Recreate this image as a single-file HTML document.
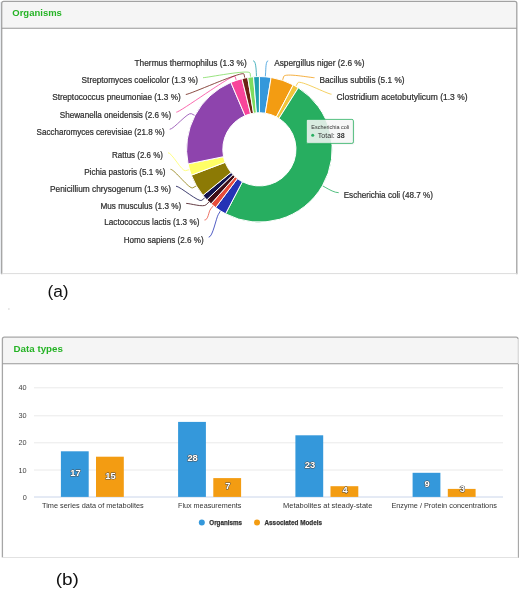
<!DOCTYPE html>
<html><head><meta charset="utf-8"><style>
html,body{margin:0;padding:0;background:#fff}
body{width:520px;height:589px;overflow:hidden;position:relative;font-family:"Liberation Sans",sans-serif}
svg{position:absolute;left:0;top:0;will-change:transform}
text{font-family:"Liberation Sans",sans-serif}
</style></head><body>
<svg width="520" height="589" viewBox="0 0 520 589">
<!-- panels -->
<g fill="none">
<rect x="2.2" y="2" width="514" height="26.3" fill="#f5f5f5"/>
<rect x="0" y="2" width="1.4" height="272" fill="#eaedf1"/>
<path d="M1.7,274.2V3.4Q1.7,1.45 3.7,1.45H514.8Q516.8,1.45 516.8,3.4V274.2" stroke="#a2a2a2" stroke-width="1.3"/>
<path d="M1.6,273.6H516.8" stroke="#dcdcdc" stroke-width="1"/>
<path d="M1.6,28.3H516.8" stroke="#989898" stroke-width="1.1"/>
<rect x="3" y="337.7" width="514.6" height="26" fill="#f5f5f5"/>
<path d="M2.4,557.4V339.1Q2.4,337.1 4.4,337.1H516Q518,337.1 518,339.1" stroke="#a6a6a6" stroke-width="1.3"/>
<path d="M518.2,339.1V364" stroke="#cfcfcf" stroke-width="1.1"/><path d="M518.4,364V557.8" stroke="#a4a4a4" stroke-width="1.1"/>
<path d="M2.4,557.5H518" stroke="#e2e2e2" stroke-width="1"/>
<path d="M2.4,363.7H518" stroke="#989898" stroke-width="1.1"/>
</g>
<text x="47.4" y="297.3" font-size="17.3" fill="#111">(a)</text>
<text x="55.7" y="585.3" font-size="17.3" fill="#111" textLength="23.2" lengthAdjust="spacingAndGlyphs">(b)</text>
<path d="M268.2,60.8C265.7,60.8 265.9,68.8 265.6,72.8L265.3,76.8" fill="none" stroke="#3498db" stroke-width="0.8"/>
<path d="M314.5,77.7C310.5,77.7 285.0,72.7 283.7,76.5L282.5,80.3" fill="none" stroke="#f39c12" stroke-width="0.8"/>
<path d="M331.5,94.2C327.5,94.2 299.8,79.4 297.8,82.8L295.8,86.3" fill="none" stroke="#f1c43a" stroke-width="0.8"/>
<path d="M338.7,192.7C334.7,192.7 329.4,189.7 325.9,187.7L322.4,185.7" fill="none" stroke="#27ae60" stroke-width="0.8"/>
<path d="M208.7,237.2C212.7,237.2 216.2,217.6 218.4,214.3L220.5,210.9" fill="none" stroke="#2433b5" stroke-width="0.8"/>
<path d="M204.5,220.0C208.5,220.0 208.3,211.9 210.8,208.8L213.4,205.7" fill="none" stroke="#e74c3c" stroke-width="0.8"/>
<path d="M186.2,203.4C190.2,203.4 203.4,207.6 206.2,204.7L209.0,201.9" fill="none" stroke="#3d0c16" stroke-width="0.8"/>
<path d="M176.0,186.2C180.0,186.2 198.9,202.9 201.9,200.3L204.9,197.6" fill="none" stroke="#12124e" stroke-width="0.8"/>
<path d="M170.5,169.3C174.5,169.3 189.4,189.8 192.9,187.8L196.4,185.8" fill="none" stroke="#8c7a05" stroke-width="0.8"/>
<path d="M168.0,152.7C172.0,152.7 181.8,171.8 185.6,170.7L189.5,169.6" fill="none" stroke="#ffff66" stroke-width="0.8"/>
<path d="M169.7,129.3C173.7,129.3 187.9,111.8 191.4,113.7L194.9,115.5" fill="none" stroke="#8e44ad" stroke-width="0.8"/>
<path d="M176.3,112.2C180.3,112.2 233.8,72.7 235.1,76.5L236.3,80.3" fill="none" stroke="#f9449a" stroke-width="0.8"/>
<path d="M185.8,94.5C189.8,94.5 243.2,70.2 244.0,74.1L244.8,78.0" fill="none" stroke="#6e2014" stroke-width="0.8"/>
<path d="M203.0,77.7C207.0,77.7 249.7,69.1 250.1,73.1L250.6,77.1" fill="none" stroke="#7fdc5f" stroke-width="0.8"/>
<path d="M253.2,60.8C255.7,60.8 256.1,68.6 256.3,72.6L256.5,76.6" fill="none" stroke="#1fa0af" stroke-width="0.8"/>
<path d="M259.40,76.55A72.8,72.8 0 0 1 271.08,77.49L265.27,113.22A36.6,36.6 0 0 0 259.40,112.75Z" fill="#3498db" stroke="#fff" stroke-width="1" stroke-linejoin="round"/>
<path d="M271.08,77.49A72.8,72.8 0 0 1 293.23,84.89L276.41,116.94A36.6,36.6 0 0 0 265.27,113.22Z" fill="#f39c12" stroke="#fff" stroke-width="1" stroke-linejoin="round"/>
<path d="M293.23,84.89A72.8,72.8 0 0 1 298.31,87.82L278.96,118.42A36.6,36.6 0 0 0 276.41,116.94Z" fill="#f1c43a" stroke="#fff" stroke-width="1" stroke-linejoin="round"/>
<path d="M298.31,87.82A72.8,72.8 0 0 1 225.57,213.81L242.39,181.76A36.6,36.6 0 0 0 278.96,118.42Z" fill="#27ae60" stroke="#fff" stroke-width="1" stroke-linejoin="round"/>
<path d="M225.57,213.81A72.8,72.8 0 0 1 215.67,207.55L237.41,178.61A36.6,36.6 0 0 0 242.39,181.76Z" fill="#2433b5" stroke="#fff" stroke-width="1" stroke-linejoin="round"/>
<path d="M215.67,207.55A72.8,72.8 0 0 1 211.12,203.84L235.13,176.75A36.6,36.6 0 0 0 237.41,178.61Z" fill="#e74c3c" stroke="#fff" stroke-width="1" stroke-linejoin="round"/>
<path d="M211.12,203.84A72.8,72.8 0 0 1 206.90,199.78L233.00,174.70A36.6,36.6 0 0 0 235.13,176.75Z" fill="#3d0c16" stroke="#fff" stroke-width="1" stroke-linejoin="round"/>
<path d="M206.90,199.78A72.8,72.8 0 0 1 203.01,195.39L231.05,172.50A36.6,36.6 0 0 0 233.00,174.70Z" fill="#12124e" stroke="#fff" stroke-width="1" stroke-linejoin="round"/>
<path d="M203.01,195.39A72.8,72.8 0 0 1 191.33,175.17L225.18,162.33A36.6,36.6 0 0 0 231.05,172.50Z" fill="#8c7a05" stroke="#fff" stroke-width="1" stroke-linejoin="round"/>
<path d="M191.33,175.17A72.8,72.8 0 0 1 188.07,163.91L223.54,156.67A36.6,36.6 0 0 0 225.18,162.33Z" fill="#ffff66" stroke="#fff" stroke-width="1" stroke-linejoin="round"/>
<path d="M188.07,163.91A72.8,72.8 0 0 1 230.86,82.38L245.05,115.68A36.6,36.6 0 0 0 223.54,156.67Z" fill="#8e44ad" stroke="#fff" stroke-width="1" stroke-linejoin="round"/>
<path d="M230.86,82.38A72.8,72.8 0 0 1 241.98,78.67L250.64,113.81A36.6,36.6 0 0 0 245.05,115.68Z" fill="#f9449a" stroke="#fff" stroke-width="1" stroke-linejoin="round"/>
<path d="M241.98,78.67A72.8,72.8 0 0 1 247.72,77.49L253.53,113.22A36.6,36.6 0 0 0 250.64,113.81Z" fill="#6e2014" stroke="#fff" stroke-width="1" stroke-linejoin="round"/>
<path d="M247.72,77.49A72.8,72.8 0 0 1 253.54,76.79L256.45,112.87A36.6,36.6 0 0 0 253.53,113.22Z" fill="#7fdc5f" stroke="#fff" stroke-width="1" stroke-linejoin="round"/>
<path d="M253.54,76.79A72.8,72.8 0 0 1 259.40,76.55L259.40,112.75A36.6,36.6 0 0 0 256.45,112.87Z" fill="#1fa0af" stroke="#fff" stroke-width="1" stroke-linejoin="round"/>
<g font-size='8.6' fill='#2e2e2e' stroke='#2e2e2e' stroke-width='0.22'><text x="274.2" y="65.5" textLength="90.3" lengthAdjust="spacingAndGlyphs">Aspergillus niger (2.6 %)</text>
<text x="319.5" y="83.0" textLength="85.0" lengthAdjust="spacingAndGlyphs">Bacillus subtilis (5.1 %)</text>
<text x="336.5" y="99.5" textLength="131.0" lengthAdjust="spacingAndGlyphs">Clostridium acetobutylicum (1.3 %)</text>
<text x="343.7" y="198.0" textLength="89.3" lengthAdjust="spacingAndGlyphs">Escherichia coli (48.7 %)</text>
<text x="123.7" y="242.5" textLength="80.0" lengthAdjust="spacingAndGlyphs">Homo sapiens (2.6 %)</text>
<text x="104.2" y="225.3" textLength="95.3" lengthAdjust="spacingAndGlyphs">Lactococcus lactis (1.3 %)</text>
<text x="100.5" y="208.7" textLength="80.7" lengthAdjust="spacingAndGlyphs">Mus musculus (1.3 %)</text>
<text x="50.0" y="191.5" textLength="121.0" lengthAdjust="spacingAndGlyphs">Penicillium chrysogenum (1.3 %)</text>
<text x="84.2" y="174.6" textLength="81.3" lengthAdjust="spacingAndGlyphs">Pichia pastoris (5.1 %)</text>
<text x="112.0" y="158.0" textLength="51.0" lengthAdjust="spacingAndGlyphs">Rattus (2.6 %)</text>
<text x="36.6" y="134.6" textLength="128.1" lengthAdjust="spacingAndGlyphs">Saccharomyces cerevisiae (21.8 %)</text>
<text x="59.8" y="117.5" textLength="111.5" lengthAdjust="spacingAndGlyphs">Shewanella oneidensis (2.6 %)</text>
<text x="52.2" y="99.8" textLength="128.6" lengthAdjust="spacingAndGlyphs">Streptococcus pneumoniae (1.3 %)</text>
<text x="81.6" y="83.0" textLength="116.4" lengthAdjust="spacingAndGlyphs">Streptomyces coelicolor (1.3 %)</text>
<text x="134.5" y="65.5" textLength="112.2" lengthAdjust="spacingAndGlyphs">Thermus thermophilus (1.3 %)</text></g>
<!-- tooltip -->
<g>
<rect x="307.4" y="120.6" width="47" height="24" rx="1.5" fill="#000" opacity="0.06"/>
<rect x="306.4" y="119.4" width="47" height="24" rx="1.5" fill="#f8f8f8" fill-opacity="0.85" stroke="#27ae60" stroke-width="0.8"/>
<text x="311.3" y="129.2" font-size="5.6" fill="#333" textLength="38" lengthAdjust="spacingAndGlyphs">Escherichia coli</text>
<circle cx="312.7" cy="135.3" r="1.5" fill="#27ae60"/>
<text x="317.8" y="137.5" font-size="7.1" fill="#333">Total: <tspan font-weight="bold">38</tspan></text>
</g>
<line x1="34.0" x2="503.0" y1="497.0" y2="497.0" stroke="#c4d0e8" stroke-width="0.9"/>
<text x="26.7" y="499.6" text-anchor="end" font-size="7.3" fill="#444">0</text>
<line x1="34.0" x2="503.0" y1="470.0" y2="470.0" stroke="#e8e8e8" stroke-width="0.9"/>
<text x="26.7" y="472.6" text-anchor="end" font-size="7.3" fill="#444">10</text>
<line x1="34.0" x2="503.0" y1="442.8" y2="442.8" stroke="#e8e8e8" stroke-width="0.9"/>
<text x="26.7" y="445.4" text-anchor="end" font-size="7.3" fill="#444">20</text>
<line x1="34.0" x2="503.0" y1="415.8" y2="415.8" stroke="#e8e8e8" stroke-width="0.9"/>
<text x="26.7" y="418.4" text-anchor="end" font-size="7.3" fill="#444">30</text>
<line x1="34.0" x2="503.0" y1="387.8" y2="387.8" stroke="#e8e8e8" stroke-width="0.9"/>
<text x="26.7" y="390.4" text-anchor="end" font-size="7.3" fill="#444">40</text>
<rect x="60.9" y="451.3" width="27.8" height="45.6" fill="#3498db"/>
<text x="75.4" y="475.8" text-anchor="middle" font-size="9.4" font-weight="bold" fill="#fff" stroke="#4a4a4a" stroke-width="1.0" paint-order="stroke" stroke-linejoin="round">17</text>
<rect x="96.0" y="456.7" width="27.8" height="40.2" fill="#f39c12"/>
<text x="110.5" y="478.5" text-anchor="middle" font-size="9.4" font-weight="bold" fill="#fff" stroke="#4a4a4a" stroke-width="1.0" paint-order="stroke" stroke-linejoin="round">15</text>
<text x="42.0" y="508.3" font-size="7.7" fill="#333" textLength="101.8" lengthAdjust="spacingAndGlyphs">Time series data of metabolites</text>
<rect x="178.1" y="421.9" width="27.8" height="75.0" fill="#3498db"/>
<text x="192.6" y="461.1" text-anchor="middle" font-size="9.4" font-weight="bold" fill="#fff" stroke="#4a4a4a" stroke-width="1.0" paint-order="stroke" stroke-linejoin="round">28</text>
<rect x="213.3" y="478.1" width="27.8" height="18.8" fill="#f39c12"/>
<text x="227.8" y="489.2" text-anchor="middle" font-size="9.4" font-weight="bold" fill="#fff" stroke="#4a4a4a" stroke-width="1.0" paint-order="stroke" stroke-linejoin="round">7</text>
<text x="178.0" y="508.3" font-size="7.7" fill="#333" textLength="63.3" lengthAdjust="spacingAndGlyphs">Flux measurements</text>
<rect x="295.4" y="435.3" width="27.8" height="61.6" fill="#3498db"/>
<text x="309.9" y="467.8" text-anchor="middle" font-size="9.4" font-weight="bold" fill="#fff" stroke="#4a4a4a" stroke-width="1.0" paint-order="stroke" stroke-linejoin="round">23</text>
<rect x="330.5" y="486.2" width="27.8" height="10.7" fill="#f39c12"/>
<text x="345.0" y="493.2" text-anchor="middle" font-size="9.4" font-weight="bold" fill="#fff" stroke="#4a4a4a" stroke-width="1.0" paint-order="stroke" stroke-linejoin="round">4</text>
<text x="283.0" y="508.3" font-size="7.7" fill="#333" textLength="89.3" lengthAdjust="spacingAndGlyphs">Metabolites at steady-state</text>
<rect x="412.6" y="472.8" width="27.8" height="24.1" fill="#3498db"/>
<text x="427.1" y="486.5" text-anchor="middle" font-size="9.4" font-weight="bold" fill="#fff" stroke="#4a4a4a" stroke-width="1.0" paint-order="stroke" stroke-linejoin="round">9</text>
<rect x="447.8" y="488.9" width="27.8" height="8.0" fill="#f39c12"/>
<text x="462.3" y="492.1" text-anchor="middle" font-size="9.4" font-weight="bold" fill="#fff" stroke="#4a4a4a" stroke-width="1.0" paint-order="stroke" stroke-linejoin="round">3</text>
<text x="391.4" y="508.3" font-size="7.7" fill="#333" textLength="105.5" lengthAdjust="spacingAndGlyphs">Enzyme / Protein concentrations</text>
<text x="12.3" y="15.5" font-size="8.3" font-weight="bold" fill="#25b325" textLength="49.6" lengthAdjust="spacingAndGlyphs">Organisms</text>
<text x="13.5" y="351.5" font-size="8.3" font-weight="bold" fill="#25b325" textLength="49.4" lengthAdjust="spacingAndGlyphs">Data types</text>
<!-- legend -->
<circle cx="201.8" cy="522.5" r="3" fill="#3498db"/>
<text x="209.3" y="524.6" font-size="6.8" font-weight="bold" fill="#333" stroke="#333" stroke-width="0.25" textLength="32.7" lengthAdjust="spacingAndGlyphs">Organisms</text>
<circle cx="257" cy="522.5" r="3" fill="#f39c12"/>
<text x="264.5" y="524.6" font-size="6.8" font-weight="bold" fill="#333" stroke="#333" stroke-width="0.25" textLength="57.5" lengthAdjust="spacingAndGlyphs">Associated Models</text>
<rect x="8.4" y="308.5" width="1" height="1" fill="#b0b0b0"/>
</svg>
</body></html>
